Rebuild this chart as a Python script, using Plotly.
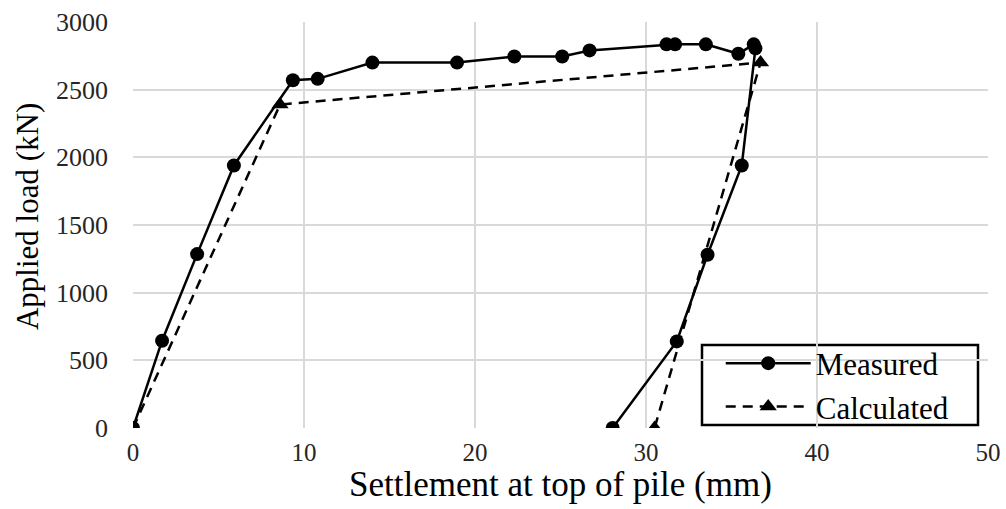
import plotly.graph_objects as go

# Load-settlement data for the pile test
measured_settlement = [0, 1.7, 3.75, 5.9, 9.35, 10.8, 14.0, 18.95, 22.3, 25.1, 26.7,
                       31.2, 31.7, 33.5, 35.4, 36.3, 36.4, 35.6, 33.6, 31.8, 28.05]
measured_load = [0, 645, 1285, 1940, 2570, 2580, 2700, 2700, 2745, 2745, 2790,
                 2835, 2835, 2835, 2765, 2835, 2805, 1940, 1280, 640, 0]

calculated_settlement = [0, 8.6, 36.7, 30.5]
calculated_load = [0, 2390, 2700, 0]

x_ticks = [0, 10, 20, 30, 40, 50]
y_ticks = [0, 500, 1000, 1500, 2000, 2500, 3000]

x_title = "Settlement at top of pile (mm)"
y_title = "Applied load (kN)"

FONT = "Liberation Serif, Times New Roman, serif"
TICK_COLOR = "#262626"

fig = go.Figure()
fig.add_trace(go.Scatter(
    x=measured_settlement, y=measured_load, name="Measured",
    mode="lines+markers",
    line=dict(color="black", width=2.5),
    marker=dict(symbol="circle", size=14, color="black"),
))
fig.add_trace(go.Scatter(
    x=calculated_settlement, y=calculated_load, name="Calculated",
    mode="lines+markers",
    line=dict(color="black", width=2.5, dash="10px,7px"),
    marker=dict(symbol="triangle-up", size=15, color="black"),
))

fig.update_layout(
    width=1006, height=509,
    margin=dict(l=133, r=18, t=22, b=81),
    paper_bgcolor="white", plot_bgcolor="white",
    font=dict(family=FONT, color="black"),
    showlegend=True,
    legend=dict(
        x=0.664, y=0.1059, xanchor="left", yanchor="middle",
        bgcolor="rgba(0,0,0,0)", borderwidth=0,
        font=dict(family=FONT, size=31, color="black"),
        tracegroupgap=0, itemwidth=85, indentation=20,
    ),
    # white framed box behind the legend entries
    shapes=[
        dict(type="rect", xref="paper", yref="paper",
             x0=0.6655, x1=0.9883, y0=0.0074, y1=0.2044,
             fillcolor="white", line=dict(color="black", width=2.5),
             layer="between"),
    ],
    annotations=[
        dict(text=x_title, xref="paper", yref="paper", x=0.5, y=-0.139,
             xanchor="center", yanchor="middle", showarrow=False,
             font=dict(family=FONT, size=35, color="black")),
        dict(text=y_title, xref="paper", yref="paper", x=-0.124, y=0.522,
             xanchor="center", yanchor="middle", showarrow=False, textangle=-90,
             font=dict(family=FONT, size=31, color="black")),
    ],
)
fig.update_xaxes(
    range=[0, 50], tickvals=x_ticks, ticktext=[str(v) for v in x_ticks],
    showgrid=True, gridcolor="#d9d9d9", gridwidth=2,
    zeroline=False, showline=False, ticks="", automargin=False,
    ticklabelstandoff=7,
    tickfont=dict(family=FONT, size=25, color=TICK_COLOR),
)
fig.update_yaxes(
    range=[0, 3000], tickvals=y_ticks, ticktext=[str(v) for v in y_ticks],
    showgrid=True, gridcolor="#d9d9d9", gridwidth=2,
    zeroline=False, showline=False, ticks="", automargin=False,
    ticklabelstandoff=24,
    tickfont=dict(family=FONT, size=26, color=TICK_COLOR),
)

fig.write_html("out.html")
